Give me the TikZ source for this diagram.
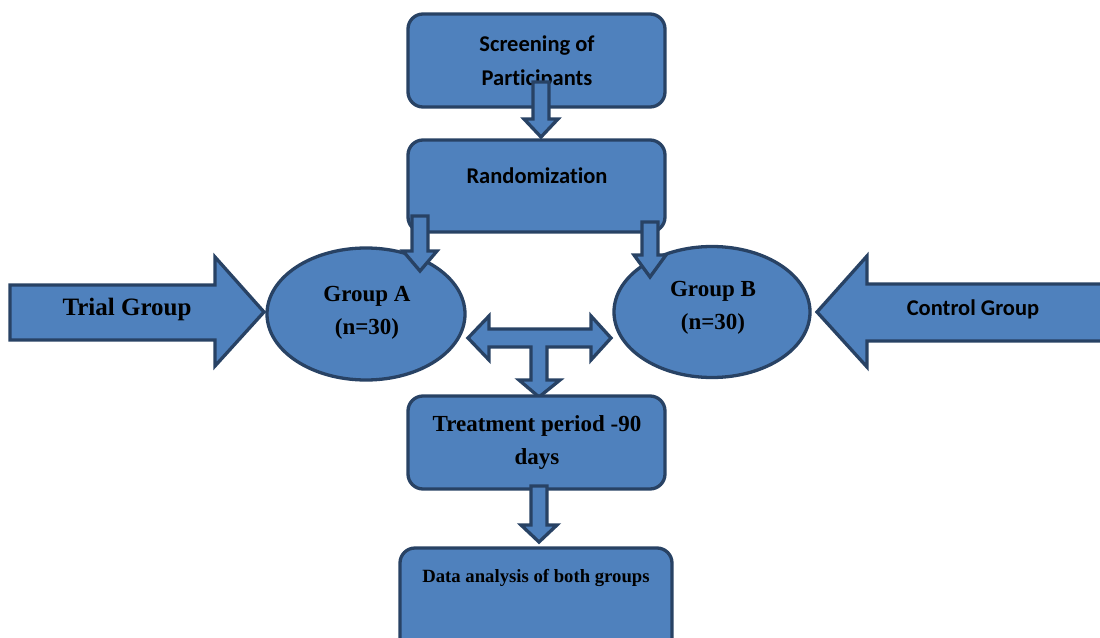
\documentclass[tikz,border=0pt]{standalone}
\usepackage{fontspec}
\setmainfont{Liberation Serif}
\newfontfamily\calib[Ligatures=NoCommon]{Carlito}
\usetikzlibrary{shapes.geometric}
\definecolor{fillblue}{RGB}{79,129,189}
\definecolor{edgeblue}{RGB}{40,66,100}
\tikzset{
  shp/.style={draw=edgeblue, fill=fillblue, line width=3.3pt},
  box/.style={shp, rounded corners=15pt, inner sep=0pt},
  oval/.style={shp, ellipse, inner sep=0pt},
  blk/.style={shp, line join=miter},
  cal/.style={font=\calib\bfseries\fontsize{22.5}{34}\selectfont, align=center, inner sep=0pt},
  tms/.style={font=\bfseries\fontsize{23}{33}\selectfont, align=center, inner sep=0pt},
}
\newcommand\blkdown[6]{\draw[blk] (#1-#5,#2) -- (#1+#5,#2) -- (#1+#5,#3) -- (#1+#6,#3) -- (#1,#4) -- (#1-#6,#3) -- (#1-#5,#3) -- cycle;}
\begin{document}
\begin{tikzpicture}[x=1pt,y=-1pt]
\useasboundingbox (0,0) rectangle (1100,637);
\clip (0,0) rectangle (1100,637);
% boxes
\node[box, minimum width=257pt, minimum height=93pt] (screen) at (536.5,60.5) {};
\node[cal] (screent) at (537,62) {Screening of\\Participants};
\blkdown{541}{82}{119}{137}{8}{17}
\node[box, minimum width=257pt, minimum height=92pt] (rand) at (536.5,186) {};
\node[cal] (randt) at (537,176) {Randomization};
% ellipses
\node[oval, minimum width=198pt, minimum height=132pt] (ga) at (366,314) {};
\node[tms] (gat) at (367,313) {Group A\\(n=30)};
\node[oval, minimum width=196pt, minimum height=131pt] (gb) at (712,312) {};
\node[tms] (gbt) at (713,308) {Group B\\(n=30)};
\blkdown{420}{216}{251}{271}{8}{17}
\blkdown{650}{222}{255}{277}{8}{16}
% side arrows
\draw[blk] (10,285) -- (215,285) -- (215,257) -- (264,312) -- (215,366) -- (215,340) -- (10,340) -- cycle;
\node[tms, font=\bfseries\fontsize{25}{28}\selectfont] (trial) at (127,309) {Trial Group};
\draw[blk] (1110,284) -- (867,284) -- (867,256) -- (817,312) -- (867,367) -- (867,341) -- (1110,341) -- cycle;
\node[cal] (control) at (973,309) {Control Group};
% T arrow
\draw[blk] (468,338) -- (489,316) -- (489,329) -- (591,329) -- (591,316) -- (611,338) -- (591,360) -- (591,347) -- (547,347) -- (547,380) -- (560,380) -- (539,397) -- (519,380) -- (531,380) -- (531,347) -- (489,347) -- (489,360) -- cycle;
% treatment
\node[box, minimum width=257pt, minimum height=93pt] (treat) at (536.5,442.5) {};
\node[tms] (treatt) at (537,442) {Treatment period -90\\days};
\blkdown{539}{486}{525}{542}{8}{18}
% data
\node[box, minimum width=272pt, minimum height=110pt] (data) at (536,603) {};
\node[tms, font=\bfseries\fontsize{18.7}{22}\selectfont] (datat) at (536,578) {Data analysis of both groups};
\end{tikzpicture}
\end{document}
